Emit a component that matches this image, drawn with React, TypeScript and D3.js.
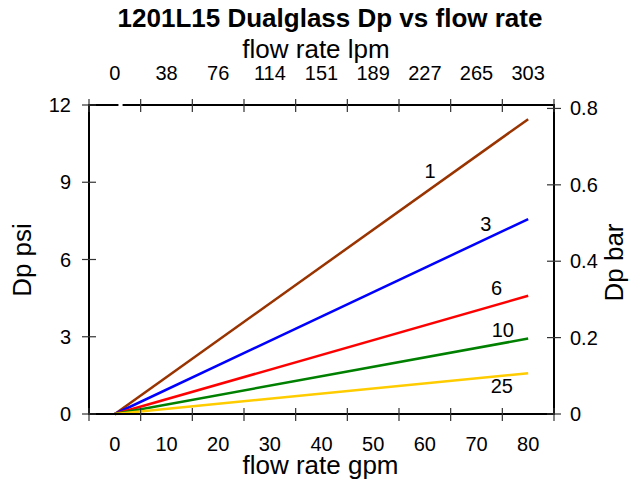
import React from "react";
import { scaleLinear, line, range } from "d3";

const W = 637;
const H = 485;

// flow rate (gpm) where each curve is sampled
const flowGpm = [0, 80];

// pressure drop (psi) for each micron rating
const series = [
  { name: "1", color: "#993300", dp: [0, 11.45] },
  { name: "3", color: "#0000ff", dp: [0, 7.57] },
  { name: "6", color: "#ff0000", dp: [0, 4.59] },
  { name: "10", color: "#008000", dp: [0, 2.93] },
  { name: "25", color: "#ffcc00", dp: [0, 1.58] },
];

// where the micron labels sit, in chart units (gpm, psi)
const labelAt = [
  [61.0, 9.45],
  [71.8, 7.38],
  [73.9, 4.9],
  [75.1, 3.26],
  [74.9, 1.09],
];

const gpmTicks = [0, 10, 20, 30, 40, 50, 60, 70, 80];
const lpmLabels = ["0", "38", "76", "114", "151", "189", "227", "265", "303"];
const psiTicks = [0, 3, 6, 9, 12];
const barTicks = [0, 0.2, 0.4, 0.6, 0.8];

const font = "'Liberation Sans', Arial, sans-serif";

const App = () => {
  const left = 89;
  const right = 554;
  const top = 105;
  const bottom = 414;

  const x = scaleLinear().domain([-5, 85]).range([left, right]);
  const y = scaleLinear().domain([0, 12]).range([bottom, top]);
  const yBar = scaleLinear().domain([0, 0.809]).range([bottom, top]);

  // tick marks sit between the labels
  const xMarks = range(-5, 86, 10);

  const path = line<number>()
    .x((_, i) => x(flowGpm[i]))
    .y((d) => y(d));

  return (
    <svg
      width={W}
      height={H}
      style={{ position: "absolute", left: 0, top: 0, background: "#fff" }}
      fontFamily={font}
    >
      <text x={330} y={26.7} textAnchor="middle" fontSize={26} fontWeight="bold">
        1201L15 Dualglass Dp vs flow rate
      </text>
      <text x={316} y={58.3} textAnchor="middle" fontSize={26}>
        flow rate lpm
      </text>

      {series.map((s) => (
        <path key={s.name} d={path(s.dp) || ""} fill="none" stroke={s.color} strokeWidth={2.5} />
      ))}

      {series.map((s, i) => (
        <text
          key={s.name}
          x={x(labelAt[i][0])}
          y={y(labelAt[i][1])}
          dy="0.35em"
          textAnchor="middle"
          fontSize={20}
        >
          {s.name}
        </text>
      ))}

      {/* frame */}
      <g stroke="#000" strokeWidth={2}>
        <line x1={left} x2={left} y1={top} y2={bottom} />
        <line x1={right} x2={right} y1={top} y2={bottom} />
        <line x1={left - 1} x2={right + 1} y1={bottom} y2={bottom} />
        <line x1={left - 1} x2={right + 1} y1={top} y2={top} />
      </g>
      {/* small break in the top line, as in the original */}
      <line x1={x(0.7)} x2={x(1.5)} y1={top} y2={top} stroke="#fff" strokeWidth={3} />

      <g stroke="#333" strokeWidth={1.2}>
        {xMarks.map((g) => (
          <React.Fragment key={g}>
            <line x1={x(g)} x2={x(g)} y1={bottom - 6} y2={bottom + 7} />
            <line x1={x(g)} x2={x(g)} y1={top - 6} y2={top + 7} />
          </React.Fragment>
        ))}
        {psiTicks.map((p) => (
          <line key={p} x1={left - 7} x2={left + 7} y1={y(p)} y2={y(p)} />
        ))}
        {barTicks.map((b) => (
          <line key={b} x1={right - 7} x2={right + 7} y1={yBar(b)} y2={yBar(b)} />
        ))}
      </g>

      <g fontSize={20} textAnchor="middle">
        {gpmTicks.map((g, i) => (
          <React.Fragment key={g}>
            <text x={x(g)} y={451}>
              {g}
            </text>
            <text x={x(g)} y={80}>
              {lpmLabels[i]}
            </text>
          </React.Fragment>
        ))}
      </g>

      <g fontSize={20}>
        {psiTicks.map((p) => (
          <text key={p} x={71} y={y(p)} dy="0.35em" textAnchor="end">
            {p}
          </text>
        ))}
        {barTicks.map((b) => (
          <text key={b} x={570} y={yBar(b)} dy="0.35em">
            {b === 0 ? "0" : b.toFixed(1)}
          </text>
        ))}
      </g>

      <text x={320.5} y={473.5} textAnchor="middle" fontSize={26}>
        flow rate gpm
      </text>
      <text transform="translate(31,260) rotate(-90)" textAnchor="middle" fontSize={26}>
        Dp psi
      </text>
      <text transform="translate(623,262.5) rotate(-90)" textAnchor="middle" fontSize={26}>
        Dp bar
      </text>
    </svg>
  );
};

export default App;
